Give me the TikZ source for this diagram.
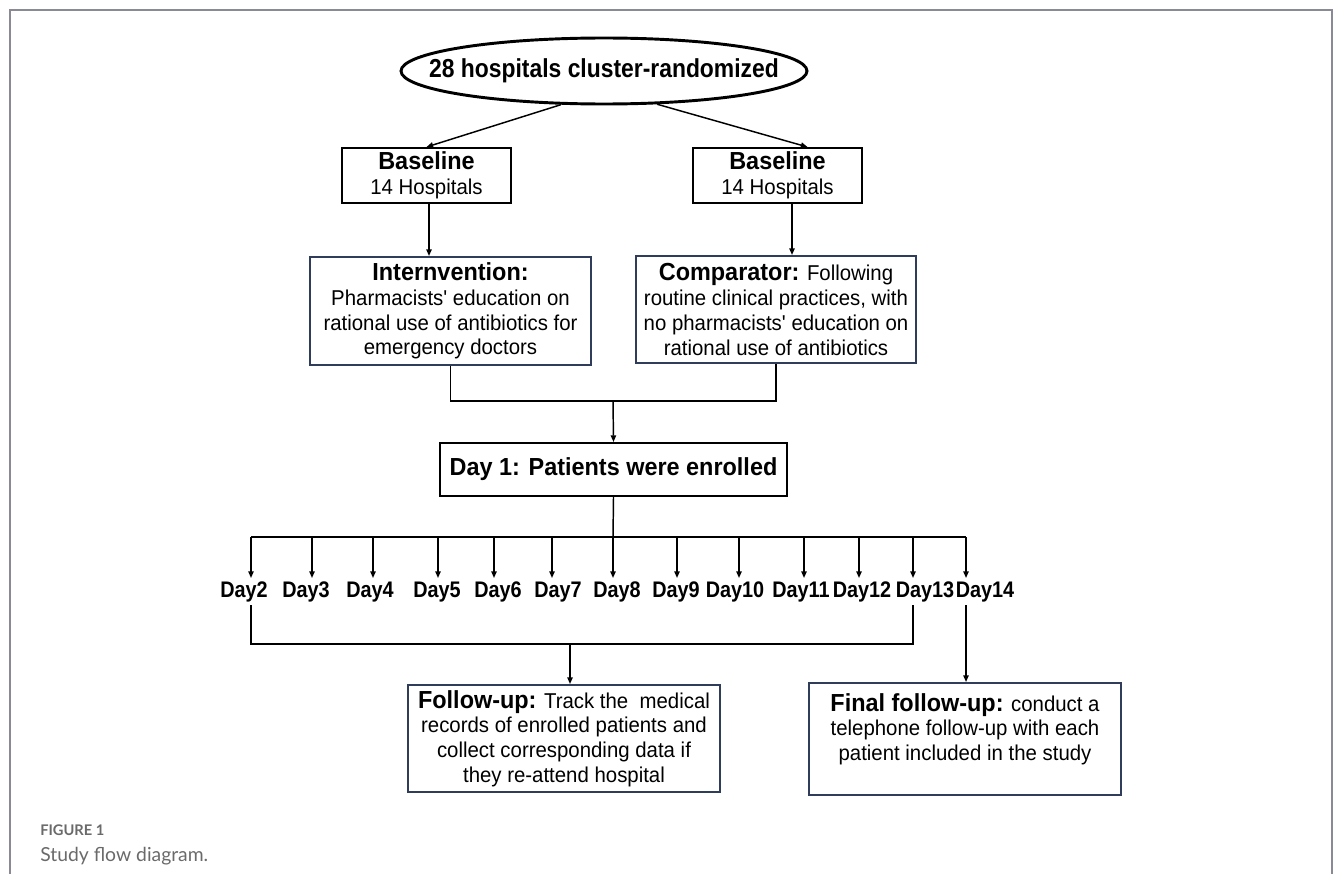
\documentclass[tikz,border=0pt]{standalone}
\usepackage{fontspec}
\setmainfont{Liberation Sans}[FakeStretch=0.95,Ligatures=TeXOff]
\newfontfamily\condf{Liberation Sans}[FakeStretch=0.88,Ligatures=TeXOff]
\newfontfamily\capfont{Lato}
\usetikzlibrary{shapes.geometric,arrows.meta,calc}
\definecolor{navy}{HTML}{2F3D5A}
\definecolor{framegray}{HTML}{8A8A96}
\definecolor{capgray}{HTML}{6A6A6A}
\newcommand{\bsz}{\fontsize{18.5}{18.6}\selectfont\bfseries}
\newcommand{\rsz}{\fontsize{16.1}{18.6}\selectfont}
\begin{document}
\begin{tikzpicture}[x=0.75pt,y=-0.75pt,
  box/.style={draw=black,line width=1.5pt,inner sep=0pt,align=center,font=\rsz},
  nbox/.style={draw=navy,line width=1.5pt,inner sep=0pt,align=center,font=\rsz},
  conn/.style={line width=1.1pt},
  arr/.style={line width=1.1pt,-{Triangle[length=5pt,width=4pt]}},
  daylbl/.style={font=\condf\fontsize{16.9}{18}\selectfont\bfseries,inner sep=0pt}]
\useasboundingbox (0,0) rectangle (1333,874);
% frame
\draw[framegray,line width=1.5pt] (10,874) -- (10,10) -- (1332,10) -- (1332,874);
% nodes
\node[draw,ellipse,line width=2.2pt,inner sep=0pt,minimum width=304.5pt,minimum height=49.5pt] (top) at (604,71) {};
\node[inner sep=0pt,font=\condf\fontsize{19.5}{20}\selectfont\bfseries] (toptext) at (604,71) {28 hospitals cluster-randomized};
\node[box,minimum width=126.75pt,minimum height=41.25pt] (bl) at (426.5,175.5) {{\bsz Baseline}\\14 Hospitals};
\node[box,minimum width=126.75pt,minimum height=41.25pt] (br) at (777.5,175.5) {{\bsz Baseline}\\14 Hospitals};
\node[nbox,minimum width=210.75pt,minimum height=81pt] (int) at (450.5,311) {{\bsz Internvention:}\\Pharmacists' education on\\rational use of antibiotics for\\emergency doctors};
\node[nbox,minimum width=210pt,minimum height=80.25pt] (comp) at (776,309.5) {{\bsz Comparator:} Following\\routine clinical practices, with\\no pharmacists' education on\\rational use of antibiotics};
\node[box,minimum width=260.25pt,minimum height=39.75pt,font=\bsz] (day1) at (613.5,469.5) {Day 1: Patients were enrolled};
\node[nbox,minimum width=234pt,minimum height=80.25pt] (fu) at (564,738.5) {{\bsz Follow-up:} Track the\ \ medical\\records of enrolled patients and\\collect corresponding data if\\they re-attend hospital};
\node[nbox,minimum width=234pt,minimum height=84pt] (fin) at (965,739) {};
\node[inner sep=0pt,align=center,font=\rsz,anchor=north] (fintext) at (965,693) {{\bsz Final follow-up:} conduct a\\telephone follow-up with each\\patient included in the study};
% top arrows
\coordinate (brn) at ($(br.north)+(30,0)$);
\draw[arr] (top.218) -- (bl.north);
\draw[arr] (top.-32) -- (brn);
\coordinate (bls) at ($(bl.south)+(2.5,0)$);
\coordinate (brs) at ($(br.south)+(14.5,0)$);
\draw[arr] (bls) -- (bls |- int.north);
\draw[arr] (brs) -- (brs |- comp.north);
% merge
\coordinate (m1) at (613,401);
\draw[conn] (int.south) |- (m1) -| (comp.south);
\draw[arr] (m1) -- (day1.north);
% day distribution
\coordinate (hub) at (613,537);
\draw[conn] (day1.south) -- (hub);
\coordinate (hl) at (251,537);
\coordinate (hr) at (966,537);
\draw[conn] (hl) -- (hr);
\foreach \d/\ax/\lx in {2/251/244,3/312/306,4/373/370,5/438/437,6/494/498,7/552/558,8/613/617,9/677/676,10/739/735,11/804/801,12/859/862,13/913/925,14/966/985}{
  \node[daylbl] (d\d) at (\lx,592) {Day\d};
  \coordinate (t\d) at (\ax,537);
  \draw[arr] (t\d) -- (\ax,578);
}
% lower merge
\coordinate (b2) at (251,605);
\coordinate (b13) at (913,605);
\coordinate (fm) at (570,644);
\draw[conn] (b2) |- (fm) -| (b13);
\draw[arr] (fm) -- (fm |- fu.north);
\coordinate (b14) at (966,605);
\draw[arr] (b14) -- (b14 |- fin.north);
% caption
\node[anchor=base west,inner sep=0pt,text=capgray,font=\capfont\bfseries\fontsize{11}{13}\selectfont] (cap1) at (40,835) {FIGURE 1};
\node[anchor=base west,inner sep=0pt,text=capgray,font=\capfont\fontsize{14.5}{16}\selectfont] (cap2) at (40,861) {Study flow diagram.};
\end{tikzpicture}
\end{document}
